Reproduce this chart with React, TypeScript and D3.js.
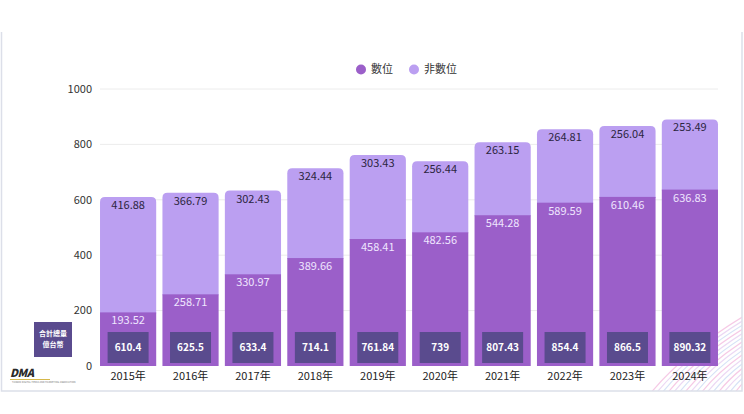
import { useEffect } from "react";
import * as d3 from "d3";

const years = ["2015年", "2016年", "2017年", "2018年", "2019年", "2020年", "2021年", "2022年", "2023年", "2024年"];
const digital = [193.52, 258.71, 330.97, 389.66, 458.41, 482.56, 544.28, 589.59, 610.46, 636.83];
const nonDigital = [416.88, 366.79, 302.43, 324.44, 303.43, 256.44, 263.15, 264.81, 256.04, 253.49];
const totals = ["610.4", "625.5", "633.4", "714.1", "761.84", "739", "807.43", "854.4", "866.5", "890.32"];
const yTicks = [0, 200, 400, 600, 800, 1000];
const seriesNames = ["數位", "非數位"];

const W = 744;
const H = 414;
const FONT = "'Noto Sans CJK TC', 'Noto Sans', sans-serif";
const C_DIGITAL = "#9b5fc9";
const C_NON = "#bb9ff1";
const C_BOX = "#5a4b8e";

function topRounded(x: number, y: number, w: number, h: number, r: number) {
  const rr = Math.min(r, h);
  return `M${x},${y + h}V${y + rr}Q${x},${y} ${x + rr},${y}H${x + w - rr}Q${x + w},${y} ${x + w},${y + rr}V${y + h}Z`;
}

export default function App() {
  useEffect(() => {
    document.body.style.margin = "0";
  }, []);

  const x = d3.scaleBand<string>().domain(years).range([96.9, 721.1]).paddingInner(0.1).paddingOuter(0.05);
  const y = d3.scaleLinear().domain([0, 1000]).range([366, 89]);
  const bw = x.bandwidth();
  const boxW = 41;

  // background swirl decoration
  const swirl = d3.range(16).map((i) => ({
    rx: 70 + i * 8,
    ry: 26 + i * 3.5,
    color: i % 3 === 0 ? "#f3b4dc" : i % 3 === 1 ? "#c6d7f3" : "#e4c8f0",
  }));

  return (
    <svg width={W} height={H} style={{ display: "block", fontFamily: FONT }}>
      <rect width={W} height={H} fill="#ffffff" />
      <defs>
        <clipPath id="card">
          <rect x={560} y={260} width={182} height={131} />
        </clipPath>
      </defs>
      {/* swirl */}
      <g clipPath="url(#card)">
        <g transform="rotate(-30 790 380)" opacity={0.7}>
          {swirl.map((s, i) => (
            <ellipse key={i} cx={790} cy={380} rx={s.rx} ry={s.ry} fill="none" stroke={s.color} strokeWidth={1.2} />
          ))}
        </g>
      </g>
      {/* card border */}
      <path d="M1.5,32V391H742V32" fill="none" stroke="#dcdfe9" strokeWidth={1.5} />

      {/* legend */}
      {seriesNames.map((n, i) => (
        <g key={n} transform={`translate(${i === 0 ? 361 : 414},69.5)`}>
          <circle r={5} fill={i === 0 ? C_DIGITAL : C_NON} />
          <text x={10} dy="0.35em" fontSize={11} fill="#333">
            {n}
          </text>
        </g>
      ))}

      {/* grid + y ticks */}
      {yTicks.map((t) => (
        <g key={t}>
          {t > 0 && <line x1={100} x2={718} y1={y(t)} y2={y(t)} stroke="#ececec" strokeWidth={1} />}
          <text x={92} y={y(t)} dy="0.35em" textAnchor="end" fontSize={11} fill="#333">
            {t}
          </text>
        </g>
      ))}

      {/* bars */}
      {years.map((yr, i) => {
        const bx = x(yr) ?? 0;
        const d = digital[i];
        const n = nonDigital[i];
        const yTop = y(d + n);
        const yMid = y(d);
        return (
          <g key={yr}>
            <path d={topRounded(bx, yTop, bw, yMid - yTop + 1, 5)} fill={C_NON} />
            <rect x={bx} y={yMid} width={bw} height={y(0) - yMid} fill={C_DIGITAL} />
            <text x={bx + bw / 2} y={yTop + 12} textAnchor="middle" fontSize={11} fill="#2b2540">
              {n}
            </text>
            <text x={bx + bw / 2} y={yMid + 12} textAnchor="middle" fontSize={11} fill="#efe6ff">
              {d}
            </text>
            <rect x={bx + (bw - boxW) / 2} y={332} width={boxW} height={31} fill={C_BOX} />
            <text x={bx + bw / 2} y={347.5} dy="0.35em" textAnchor="middle" fontSize={10} fontWeight="600" fill="#ffffff">
              {totals[i]}
            </text>
            <text x={bx + bw / 2} y={380} textAnchor="middle" fontSize={11} fill="#222">
              {yr}
            </text>
          </g>
        );
      })}

      {/* total label box */}
      <rect x={34} y={322} width={38} height={35} fill={C_BOX} />
      <text x={53} y={336} textAnchor="middle" fontSize={7} fontWeight="bold" fill="#fff">
        合計總量
      </text>
      <text x={53} y={347} textAnchor="middle" fontSize={7} fontWeight="bold" fill="#fff">
        億台幣
      </text>

      {/* logo */}
      <text x={10} y={377} fontSize={11} fontWeight="900" fontStyle="italic" fill="#2a2a2a" letterSpacing={-0.5}>
        DMA
      </text>
      <line x1={10} x2={50} y1={379.5} y2={379.5} stroke="#d6b84a" strokeWidth={1} />
      <text x={12} y={383} fontSize={2.5} fill="#777">
        TAIWAN DIGITAL MEDIA AND MARKETING ASSOCIATION
      </text>
    </svg>
  );
}
